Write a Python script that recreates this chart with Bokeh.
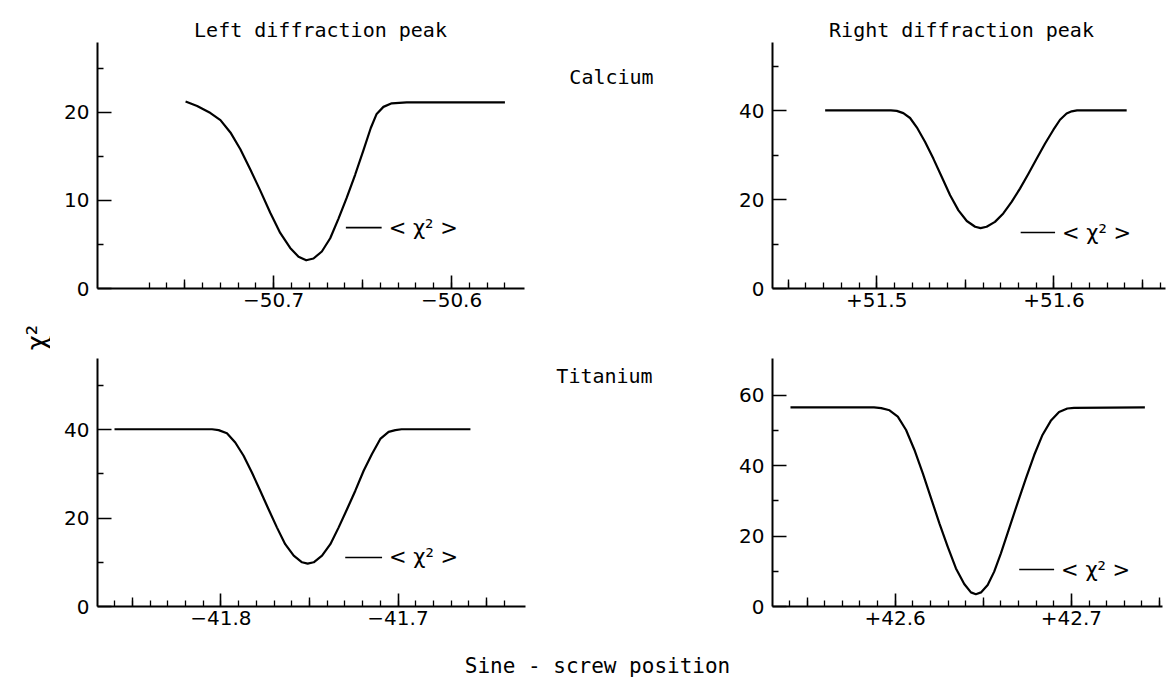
import math
from bokeh.plotting import figure
from bokeh.models import Range1d, FixedTicker, CustomJSTickFormatter, Label, LinearAxis
from bokeh.layouts import column, row
from bokeh.embed import file_html
from bokeh.resources import INLINE

# ---- chi-square scans vs sine-screw position ----
# Calcium, left diffraction peak
ca_left_pos = [-50.7495, -50.7430, -50.7355, -50.7299, -50.7243, -50.7187, -50.7131,
               -50.7075, -50.7019, -50.6963, -50.6907, -50.6860, -50.6817, -50.6776,
               -50.6729, -50.6682, -50.6636, -50.6589, -50.6542, -50.6495, -50.6454,
               -50.6421, -50.6383, -50.6336, -50.6252, -50.6000, -50.5700]
ca_left_chi2 = [21.2, 20.7, 19.9, 19.1, 17.7, 15.8, 13.5,
                11.1, 8.6, 6.3, 4.6, 3.6, 3.2, 3.4,
                4.2, 5.7, 7.9, 10.3, 12.9, 15.7, 18.2,
                19.8, 20.6, 21.0, 21.1, 21.1, 21.1]

# Calcium, right diffraction peak
ca_right_pos = [51.4709, 51.5080, 51.5113, 51.5150, 51.5188, 51.5226, 51.5273, 51.5320,
                51.5367, 51.5414, 51.5461, 51.5508, 51.5555, 51.5586, 51.5620, 51.5667,
                51.5714, 51.5761, 51.5808, 51.5855, 51.5902, 51.5949, 51.5996, 51.6034,
                51.6071, 51.6100, 51.6130, 51.6410]
ca_right_chi2 = [40.1, 40.1, 40.0, 39.5, 38.4, 36.3, 33.0, 29.2,
                 25.1, 21.0, 17.6, 15.2, 13.9, 13.6, 13.9, 15.0,
                 16.9, 19.5, 22.5, 25.8, 29.2, 32.6, 35.7, 38.0,
                 39.4, 39.9, 40.1, 40.1]

# Titanium, left diffraction peak
ti_left_pos = [-41.8601, -41.8050, -41.8013, -41.7966, -41.7919, -41.7872, -41.7825,
               -41.7778, -41.7731, -41.7684, -41.7637, -41.7589, -41.7542, -41.7510,
               -41.7476, -41.7429, -41.7382, -41.7335, -41.7288, -41.7241, -41.7194,
               -41.7147, -41.7100, -41.7053, -41.7015, -41.6980, -41.6591]
ti_left_chi2 = [40.1, 40.1, 39.9, 39.2, 37.1, 34.1, 30.3,
                26.2, 22.0, 17.9, 14.1, 11.5, 10.0, 9.7,
                10.0, 11.5, 14.1, 17.9, 22.0, 26.2, 30.7,
                34.5, 37.9, 39.5, 39.9, 40.1, 40.1]

# Titanium, right diffraction peak
ti_right_pos = [42.5406, 42.5880, 42.5921, 42.5968, 42.6015, 42.6062, 42.6109, 42.6157,
                42.6204, 42.6251, 42.6298, 42.6345, 42.6392, 42.6430, 42.6458, 42.6487,
                42.6525, 42.6562, 42.6600, 42.6647, 42.6694, 42.6742, 42.6789, 42.6836,
                42.6883, 42.6930, 42.6977, 42.7015, 42.7417]
ti_right_chi2 = [56.5, 56.5, 56.3, 55.7, 53.9, 50.1, 44.5, 37.8,
                 30.7, 23.6, 17.0, 10.8, 6.4, 4.0, 3.5, 4.0,
                 6.1, 9.9, 15.1, 22.2, 29.3, 36.4, 43.0, 48.7,
                 52.7, 55.2, 56.2, 56.4, 56.5]

# mean chi-square level of each scan, <chi^2>
mean_chi2 = [6.9, 12.6, 11.1, 10.5]
# extent of the short bar that marks the mean level
mean_bar_x0 = [-50.6594, 51.5812, -41.7298, 42.6704]
mean_bar_x1 = [-50.6393, 51.6006, -41.7090, 42.6902]

# axis ticks
x_major = [[-50.7, -50.6], [51.5, 51.6], [-41.8, -41.7], [42.6, 42.7]]
x_minor_span = [(-50.77, -50.57), (51.45, 51.66), (-41.86, -41.64), (42.54, 42.75)]
y_major = [[0, 10, 20], [0, 20, 40], [0, 20, 40], [0, 20, 40, 60]]
y_minor = [[5, 15, 25], [10, 30, 50], [10, 30, 50], [10, 30, 50]]

x_ranges = [(-50.799, -50.559), (51.4412, 51.6629), (-41.8697, -41.628), (42.5304, 42.7517)]
y_ranges = [(0, 27.9), (0, 55.4), (0, 56.1), (0, 70.4)]

NUM_FONT = "DejaVu Sans"
WORD_FONT = "DejaVu Sans Mono"

signed_fmt = CustomJSTickFormatter(code="""
const v = Math.abs(tick).toFixed(1);
return (tick < 0 ? "\u2212" : "+") + v;
""")


def hundredths(lo, hi):
    n = int(round((hi - lo) * 100))
    return [round(lo + i * 0.01, 2) for i in range(n + 1)]


def half_tenths(lo, hi):
    # the x.x5 positions inside the span
    return [v for v in hundredths(lo, hi) if int(round(abs(v) * 100)) % 10 == 5]


def make_panel(i, width, height, left, right, top, bottom, pos, chi2):
    p = figure(width=width, height=height,
               x_range=Range1d(*x_ranges[i]), y_range=Range1d(*y_ranges[i]),
               output_backend="svg", toolbar_location=None,
               min_border_left=left, min_border_right=right,
               min_border_top=top, min_border_bottom=bottom)
    p.xgrid.visible = False
    p.ygrid.visible = False
    p.outline_line_color = None
    p.background_fill_color = "white"
    p.border_fill_color = "white"

    p.xaxis.ticker = FixedTicker(ticks=x_major[i], minor_ticks=hundredths(*x_minor_span[i]))
    p.xaxis.formatter = signed_fmt
    p.yaxis.ticker = FixedTicker(ticks=y_major[i], minor_ticks=y_minor[i])

    for ax in (p.xaxis[0], p.yaxis[0]):
        ax.axis_line_width = 2
        ax.axis_line_color = "black"
        ax.major_tick_line_color = "black"
        ax.minor_tick_line_color = "black"
        ax.major_tick_line_width = 1.6
        ax.minor_tick_line_width = 1.3
        ax.major_tick_out = 0
        ax.minor_tick_out = 0
        ax.minor_tick_in = 6
        ax.major_label_text_font = NUM_FONT
        ax.major_label_text_font_size = "20px"
        ax.major_label_text_color = "black"
    p.xaxis.major_tick_in = 13
    p.yaxis.major_tick_in = 14
    p.xaxis.major_label_standoff = 4
    p.yaxis.major_label_standoff = 8

    # intermediate ticks at the half-tenth marks, drawn on the x axis line
    half_axis = LinearAxis(fixed_location=y_ranges[i][0],
                           ticker=FixedTicker(ticks=half_tenths(*x_minor_span[i]), minor_ticks=[]),
                           axis_line_color=None, major_tick_in=9, major_tick_out=0,
                           major_tick_line_width=1.4, major_tick_line_color="black",
                           minor_tick_line_color=None, major_label_text_color=None,
                           major_label_text_font_size="1px")
    p.add_layout(half_axis, "below")

    p.line(pos, chi2, line_color="black", line_width=2.2, line_join="round")

    # mean level marker with its label
    p.segment(x0=[mean_bar_x0[i]], y0=[mean_chi2[i]], x1=[mean_bar_x1[i]], y1=[mean_chi2[i]],
              line_color="black", line_width=1.6)
    p.add_layout(Label(x=mean_bar_x1[i], y=mean_chi2[i], x_offset=7, text="< χ² >",
                       text_font=NUM_FONT, text_font_size="21px", text_color="black",
                       text_align="left", text_baseline="middle"))
    return p


def text_box(width, height):
    # plain canvas whose frame fills it; y grows downward like page coordinates
    p = figure(width=width, height=height, x_range=Range1d(0, width),
               y_range=Range1d(height, 0), x_axis_type=None, y_axis_type=None,
               output_backend="svg", toolbar_location=None, min_border=0)
    # keep this frame out of the row's frame alignment so it fills its canvas
    p.frame_align = False
    p.xgrid.visible = False
    p.ygrid.visible = False
    p.outline_line_color = None
    p.background_fill_color = "white"
    p.border_fill_color = "white"
    return p


def put(p, x, y, text, size="20px", font=WORD_FONT, angle=0.0):
    p.add_layout(Label(x=x, y=y, text=text, text_font=font, text_font_size=size,
                       text_color="black", angle=angle, text_align="center",
                       text_baseline="alphabetic"))


# headings band
top_band = text_box(1168, 42)
put(top_band, 320, 29, "Left diffraction peak")
put(top_band, 961, 29, "Right diffraction peak")

# first row: calcium
p1 = make_panel(0, 530, 274, 97, 6, 0, 28, ca_left_pos, ca_left_chi2)
gap1 = text_box(206, 274)
put(gap1, 81, 34, "Calcium")
p2 = make_panel(1, 432, 274, 36, 3, 0, 28, ca_right_pos, ca_right_chi2)

# second row: titanium
strip = text_box(50, 318)
put(strip, 36, 21, "χ²", size="26px", font=NUM_FONT, angle=math.pi / 2)
p3 = make_panel(2, 480, 318, 47, 5, 42, 28, ti_left_pos, ti_left_chi2)
gap2 = text_box(206, 318)
put(gap2, 74, 59, "Titanium")
p4 = make_panel(3, 432, 318, 35, 6, 42, 28, ti_right_pos, ti_right_chi2)

# common x label band
bottom_band = text_box(1168, 44)
put(bottom_band, 597, 31, "Sine - screw position", size="21px")

layout = column(top_band,
                row(p1, gap1, p2),
                row(strip, p3, gap2, p4),
                bottom_band)

open("out.html", "w").write(file_html(layout, INLINE))
